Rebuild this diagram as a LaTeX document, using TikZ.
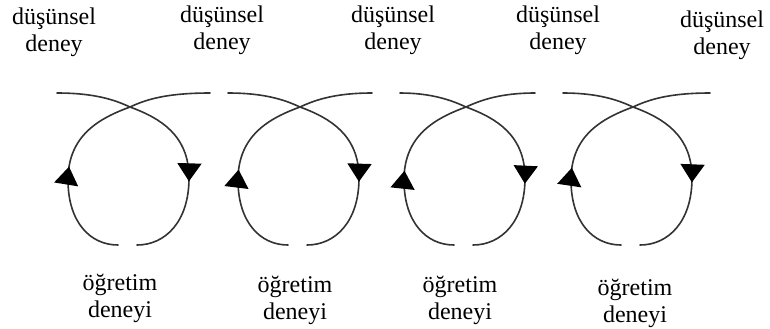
\documentclass[tikz,border=0pt]{standalone}
\usepackage{fontspec}
\setmainfont{Liberation Serif}
\usetikzlibrary{arrows.meta, decorations.markings}
\tikzset{every node/.style={font=\rmfamily\fontsize{12}{13.5}\selectfont}, every path/.style={line cap=round, line join=round}, >={Triangle[length=9pt, width=12pt]}}
\tikzset{
    loopline/.style={draw=black!80, line width=0.8pt},
    arrowat/.style={postaction={decorate}, decoration={markings, mark=at position #1 with {\arrow[black]{>}}}},
    lbl/.style={align=center, inner sep=0pt}
}

\begin{document}
\begin{tikzpicture}[x=0.5pt, y=-0.5pt]
    \useasboundingbox (0,0) rectangle (770,328);

    % top labels
    \node [lbl] (think1) at (54,32) {düşünsel\\deney};
    \node [lbl] (think2) at (222,30) {düşünsel\\deney};
    \node [lbl] (think3) at (393,30) {düşünsel\\deney};
    \node [lbl] (think4) at (558,30) {düşünsel\\deney};
    \node [lbl] (think5) at (722,35) {düşünsel\\deney};

    % bottom labels
    \node [lbl] (teach1) at (120,298) {öğretim\\deneyi};
    \node [lbl] (teach2) at (295,300) {öğretim\\deneyi};
    \node [lbl] (teach3) at (460,300) {öğretim\\deneyi};
    \node [lbl] (teach4) at (635,303) {öğretim\\deneyi};

    % loops: crossing x / left reach / right reach
    \foreach \cx/\l/\r in {130/73/80, 300/72/72, 466/66/69, 633/70/77} {
        \draw [loopline, arrowat=0.66]
            (\cx-\l,93) .. controls (\cx-35,93) and (\cx-15,100) .. (\cx,107)
            .. controls (\cx+30,118) and (\cx+59,135) .. (\cx+59,178)
            .. controls (\cx+59,222) and (\cx+35,245) .. (\cx+7,245);
        \draw [loopline, arrowat=0.38]
            (\cx-12,245) .. controls (\cx-40,245) and (\cx-62,222) .. (\cx-62,180)
            .. controls (\cx-62,135) and (\cx-30,118) .. (\cx,107)
            .. controls (\cx+15,100) and (\cx+35,93) .. (\cx+\r,93);
    }
\end{tikzpicture}
\end{document}
